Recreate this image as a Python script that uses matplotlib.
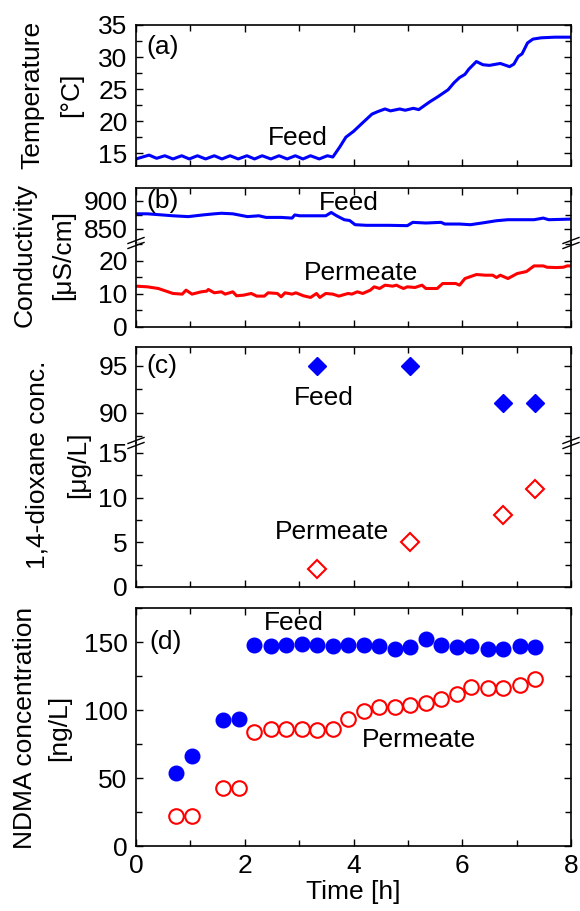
import matplotlib
matplotlib.use("Agg")
import matplotlib.pyplot as plt
from matplotlib.ticker import MultipleLocator
from matplotlib.lines import Line2D

plt.rcParams["font.family"] = ["Liberation Sans", "DejaVu Sans"]
plt.rcParams["font.size"] = 19

BLUE = "#0000ff"
RED = "#ff0000"

# (a) feed temperature
temp_time = [0.0, 0.24, 0.38, 0.53, 0.68, 0.84, 0.98, 1.13, 1.28, 1.44, 1.58, 1.73,
             1.88, 2.04, 2.18, 2.32, 2.48, 2.63, 2.78, 2.93, 3.07, 3.21, 3.37, 3.52,
             3.62, 3.75, 3.86, 4.0, 4.15, 4.34, 4.45, 4.58, 4.68, 4.85, 4.95, 5.1,
             5.2, 5.4, 5.55, 5.74, 5.85, 5.95, 6.05, 6.12, 6.26, 6.38, 6.5, 6.7,
             6.87, 6.95, 7.03, 7.1, 7.2, 7.3, 7.45, 7.7, 8.0]
temp_feed = [14.1, 14.7, 14.2, 14.6, 14.1, 14.6, 14.1, 14.6, 14.1, 14.6, 14.1, 14.6,
             14.1, 14.6, 14.1, 14.6, 14.1, 14.6, 14.1, 14.6, 14.1, 14.6, 14.1, 14.6,
             14.4, 16.0, 17.5, 18.4, 19.6, 21.1, 21.5, 21.9, 21.6, 21.9, 21.7, 22.0,
             21.8, 23.0, 23.8, 24.9, 26.0, 26.8, 27.3, 28.1, 29.3, 28.8, 28.7, 29.0,
             28.5, 28.9, 30.1, 30.5, 32.2, 32.8, 33.0, 33.1, 33.1]

# (b) conductivity
cond_feed_time = [0.0, 0.21, 0.48, 0.68, 0.96, 1.23, 1.44, 1.57, 1.78, 2.05, 2.26, 2.39,
                  2.67, 2.87, 2.92, 3.01, 3.49, 3.59, 3.69, 3.83, 3.93, 4.03, 4.24, 4.65,
                  4.99, 5.09, 5.33, 5.61, 5.68, 5.95, 6.15, 6.36, 6.63, 6.84, 7.32, 7.49,
                  7.59, 8.0]
cond_feed = [877, 877, 875, 873.5, 872, 875, 877, 878, 877, 872, 873.5, 870.6,
             870.6, 869.4, 875, 873.5, 873.5, 879.4, 873.5, 866.5, 865, 857.6, 856.5, 856.5,
             855.9, 861.8, 860.6, 861.8, 858.8, 858.8, 857.6, 860.6, 864.7, 866.5, 866.5, 869.4,
             866.5, 867.6]
cond_perm_time = [0.0, 0.21, 0.41, 0.68, 0.85, 0.92, 1.03, 1.20, 1.30, 1.33, 1.44, 1.57,
                  1.64, 1.78, 1.85, 1.98, 2.12, 2.22, 2.36, 2.43, 2.60, 2.67, 2.74, 2.87,
                  2.94, 3.08, 3.21, 3.32, 3.38, 3.49, 3.62, 3.73, 3.90, 3.97, 4.07, 4.17,
                  4.31, 4.38, 4.48, 4.58, 4.72, 4.79, 4.85, 4.92, 4.99, 5.13, 5.26, 5.33,
                  5.54, 5.64, 5.88, 5.95, 6.05, 6.26, 6.43, 6.56, 6.63, 6.70, 6.84, 7.01,
                  7.18, 7.32, 7.49, 7.56, 7.73, 7.86, 7.93, 8.0]
cond_perm = [12.3, 12.1, 11.6, 10.1, 9.9, 11.1, 9.9, 10.6, 10.8, 11.3, 10.3, 10.6,
             9.9, 10.6, 9.4, 9.6, 10.1, 9.3, 9.3, 10.3, 10.1, 9.1, 10.3, 9.9,
             10.3, 9.4, 8.9, 10.1, 8.9, 10.1, 9.9, 9.3, 10.1, 9.9, 10.6, 10.1,
             11.1, 12.1, 11.6, 12.6, 12.3, 12.6, 12.1, 11.6, 12.1, 11.9, 12.6, 11.6,
             11.6, 13.1, 13.1, 12.6, 14.6, 15.8, 15.6, 15.6, 14.9, 15.6, 14.6, 16.1,
             16.7, 18.4, 18.4, 18.0, 17.9, 18.0, 18.4, 18.4]

# (c) 1,4-dioxane
diox_time = [3.33, 5.04, 6.75, 7.33]
diox_feed = [95, 95, 91, 91]
diox_perm = [2, 5, 8, 11]

# (d) NDMA
ndma_time = [0.74, 1.03, 1.60, 1.90, 2.17, 2.48, 2.76, 3.06, 3.33, 3.62, 3.90, 4.19,
             4.47, 4.77, 5.04, 5.33, 5.61, 5.90, 6.17, 6.48, 6.75, 7.06, 7.33]
ndma_feed = [54, 66, 93, 93.5, 148, 147, 147.5, 148.5, 148, 147, 148, 147.5,
             147, 144.5, 146, 152, 147.5, 146.5, 147, 144.5, 144.5, 147, 146]
ndma_perm = [22, 22, 43, 43, 84, 86, 86, 86, 85.5, 86, 93.5, 99.5,
             102.5, 102.5, 103.5, 105.5, 108, 112, 117, 116.5, 116.5, 118.5, 123]

W, H = 580, 911
fig = plt.figure(figsize=(W / 100, H / 100), dpi=100)
X0, X1 = 136, 571


def add_ax(top, bottom):
    return fig.add_axes([X0 / W, 1 - bottom / H, (X1 - X0) / W, (bottom - top) / H])


def style(ax, ymajor, yminor, xlabels=False):
    ax.set_xlim(0, 8)
    ax.xaxis.set_major_locator(MultipleLocator(2))
    ax.xaxis.set_minor_locator(MultipleLocator(1))
    ax.yaxis.set_major_locator(MultipleLocator(ymajor))
    ax.yaxis.set_minor_locator(MultipleLocator(yminor))
    ax.tick_params(which="both", direction="in", top=True, right=True, width=1.0)
    ax.tick_params(which="major", length=5, pad=6)
    ax.tick_params(which="minor", length=4)
    if not xlabels:
        ax.tick_params(axis="x", which="both", labelbottom=False)
    for s in ax.spines.values():
        s.set_linewidth(1.2)


def break_marks(y_px):
    for x in (X0, X1):
        for dy in (-2.5, 2.5):
            fig.add_artist(Line2D([(x - 8) / W, (x + 8) / W],
                                  [1 - (y_px + dy + 3) / H, 1 - (y_px + dy - 3) / H],
                                  color="black", lw=1.0))


def pair(upper, lower):
    upper.spines["bottom"].set_visible(False)
    upper.tick_params(axis="x", which="both", bottom=False)
    lower.spines["top"].set_visible(False)
    lower.tick_params(axis="x", which="both", top=False)


# (a)
ax_a = add_ax(25, 166)
ax_a.plot(temp_time, temp_feed, color=BLUE, lw=2.2)
ax_a.set_ylim(13, 35)
style(ax_a, 5, 2.5)
ax_a.text(0.2, 31.5, "(a)", va="center")
ax_a.text(2.97, 17.3, "Feed", ha="center", va="center")

# (b)
ax_b1 = add_ax(188, 243)
ax_b2 = add_ax(243, 327)
ax_b1.plot(cond_feed_time, cond_feed, color=BLUE, lw=2.2)
ax_b2.plot(cond_perm_time, cond_perm, color=RED, lw=2.2)
ax_b1.set_ylim(825, 923)
ax_b2.set_ylim(0, 25.3)
style(ax_b1, 50, 25)
style(ax_b2, 10, 5)
pair(ax_b1, ax_b2)
ax_b1.text(0.2, 899, "(b)", va="center")
ax_b1.text(3.91, 896, "Feed", ha="center", va="center")
ax_b2.text(4.14, 16.2, "Permeate", ha="center", va="center")
break_marks(243)

# (c)
ax_c1 = add_ax(347, 443)
ax_c2 = add_ax(443, 587)
ax_c1.plot(diox_time, diox_feed, ls="none", marker="D", ms=9.5, color=BLUE)
ax_c2.plot(diox_time, diox_perm, ls="none", marker="D", ms=9.5, mfc="white",
           mec=RED, mew=1.5)
ax_c1.set_ylim(86.8, 97)
ax_c2.set_ylim(0, 16.1)
style(ax_c1, 5, 2.5)
style(ax_c2, 5, 2.5)
pair(ax_c1, ax_c2)
ax_c1.text(0.2, 95, "(c)", va="center")
ax_c1.text(3.45, 91.6, "Feed", ha="center", va="center")
ax_c2.text(3.6, 6.2, "Permeate", ha="center", va="center")
break_marks(443)

# (d)
ax_d = add_ax(608, 846)
ax_d.plot(ndma_time, ndma_feed, ls="none", marker="o", ms=10.5, color=BLUE)
ax_d.plot(ndma_time, ndma_perm, ls="none", marker="o", ms=10.5, mfc="white",
          mec=RED, mew=1.5)
ax_d.set_ylim(0, 175)
style(ax_d, 50, 25, xlabels=True)
ax_d.text(0.25, 150, "(d)", va="center")
ax_d.text(2.9, 164, "Feed", ha="center", va="center")
ax_d.text(5.2, 78, "Permeate", ha="center", va="center")
ax_d.set_xlabel("Time [h]", labelpad=1)

# y-axis titles
for x, y, s in [(32, 95, "Temperature"), (71, 95, "[°C]"),
                (25, 255, "Conductivity"), (63, 255, "[μS/cm]"),
                (38, 465, "1,4-dioxane conc."), (78, 465, "[μg/L]"),
                (25, 728, "NDMA concentration"), (59, 728, "[ng/L]")]:
    fig.text(x / W, 1 - y / H, s, rotation=90, ha="center", va="center")

fig.savefig("out.png", dpi=100)
